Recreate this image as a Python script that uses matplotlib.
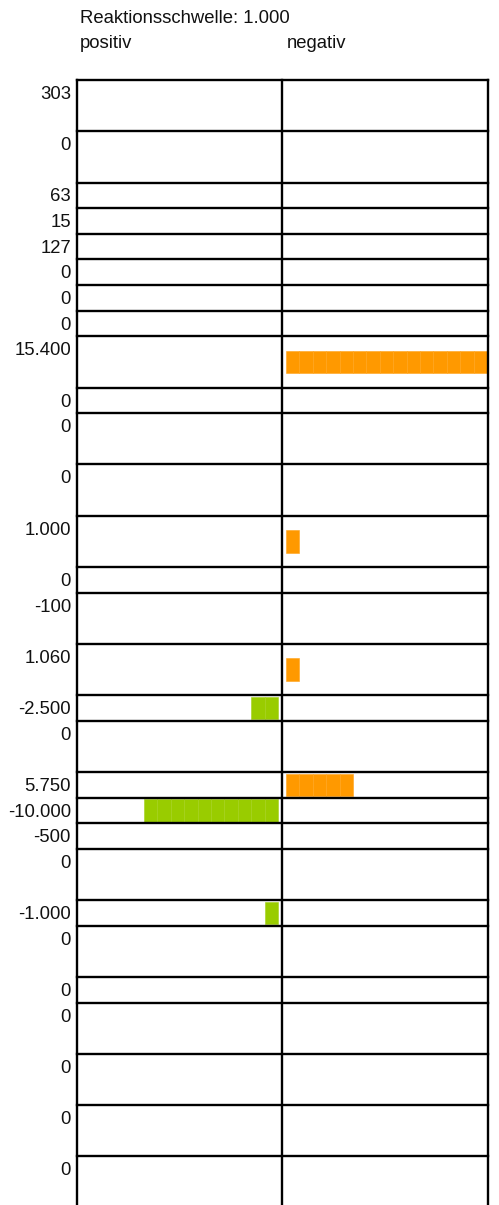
import matplotlib
matplotlib.use("Agg")
import matplotlib.pyplot as plt

plt.rcParams["font.family"] = ["Liberation Sans", "DejaVu Sans"]

# chart data
threshold = 1000
values = [303, 0, 63, 15, 127, 0, 0, 0, 15400, 0, 0, 0, 1000, 0, -100,
          1060, -2500, 0, 5750, -10000, -500, 0, -1000, 0, 0, 0, 0, 0, 0]
row_units = [2, 2, 1, 1, 1, 1, 1, 1, 2, 1, 2, 2, 2, 1, 2,
             2, 1, 2, 1, 1, 1, 2, 1, 2, 1, 2, 2, 2, 2]
header = "Reaktionsschwelle"
side_labels = ["positiv", "negativ"]


def de_format(v):
    return f"{v:,}".replace(",", ".")


W, H = 499, 1205
unit_px = 25.63
top_px = 80
left_px, mid_px, right_px = 77, 282, 488
block_w = 13.4
gap = 4
txt = "#111111"
lw = 1.7

fig = plt.figure(figsize=(W / 100, H / 100), dpi=100)
ax = fig.add_axes([left_px / W, 0, (right_px - left_px) / W, 1 - top_px / H])
ax.set_xlim(left_px - mid_px, right_px - mid_px)
ax.set_ylim((H - top_px) / unit_px, 0)
ax.axis("off")

tops = [0]
for u in row_units:
    tops.append(tops[-1] + u)

# grid lines
ax.hlines(tops, left_px - mid_px, right_px - mid_px, color="black",
          linewidth=lw, clip_on=False, capstyle="projecting", zorder=3)
ax.vlines([left_px - mid_px, 0, right_px - mid_px], 0, tops[-1], color="black",
          linewidth=lw, clip_on=False, capstyle="projecting", zorder=3)

# block bars: one block per threshold step
for v, t, u in zip(values, tops[:-1], row_units):
    ax.text(-(mid_px - left_px) - 6, t + 0.74, de_format(v), ha="right",
            va="baseline", fontsize=13.3, color=txt, clip_on=False)
    n = int(abs(v) // threshold)
    if n == 0:
        continue
    yc = t + u / 2
    if v > 0:
        lefts = [gap + k * block_w for k in range(n)]
        color, edge = "#ff9900", "#ffa31a"
    else:
        lefts = [-gap - (k + 1) * block_w for k in range(n)]
        color, edge = "#99cc00", "#a3d11a"
    ax.barh([yc] * n, block_w, left=lefts, height=0.88, color=color,
            edgecolor=edge, linewidth=0.4)

fig.text(80 / W, 1 - 23.3 / H, f"{header}: {de_format(threshold)}",
         fontsize=13.3, color=txt, va="baseline")
fig.text(80 / W, 1 - 48 / H, side_labels[0], fontsize=13.3, color=txt, va="baseline")
fig.text(287 / W, 1 - 48 / H, side_labels[1], fontsize=13.3, color=txt, va="baseline")

fig.savefig("out.png", dpi=100)
